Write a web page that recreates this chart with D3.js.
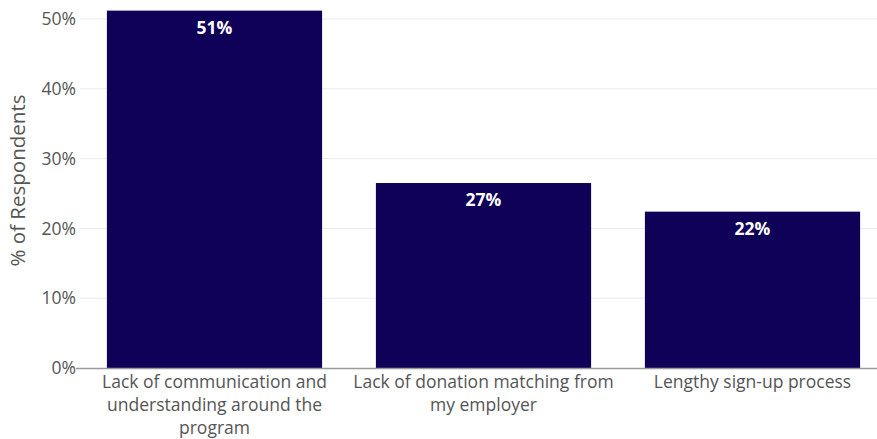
<!DOCTYPE html>
<html>
<head>
<meta charset="utf-8">
<script src="https://cdn.jsdelivr.net/npm/d3@7"></script>
<style>
  html, body { margin: 0; padding: 0; background: #fff; }
  svg { display: block; font-family: "Open Sans", sans-serif; }
</style>
</head>
<body>
<svg id="chart" width="877" height="439"></svg>
<script>
// Barriers reported by respondents (share of respondents, %)
const categories = [
  ["Lack of communication and", "understanding around the", "program"],
  ["Lack of donation matching from", "my employer"],
  ["Lengthy sign-up process"]
];
const values = [51.2, 26.5, 22.4];
const yTicks = [0, 10, 20, 30, 40, 50];
const yTitle = "% of Respondents";

const svg = d3.select("#chart");
const margin = { top: 19, left: 80, right: -10, bottom: 71 };
const width = 877, height = 439;

const x = d3.scaleBand()
  .domain(d3.range(values.length))
  .range([margin.left, width - margin.right])
  .paddingInner(0.2)
  .paddingOuter(0.1);

const y = d3.scaleLinear()
  .domain([0, 50])
  .range([height - margin.bottom, margin.top]);

// horizontal gridlines
svg.append("g")
  .selectAll("line")
  .data(yTicks.filter(d => d > 0))
  .join("line")
  .attr("x1", margin.left)
  .attr("x2", width)
  .attr("y1", d => y(d))
  .attr("y2", d => y(d))
  .attr("stroke", "#ebebeb")
  .attr("stroke-width", 1);

// y axis labels
const yAxis = d3.axisLeft(y)
  .tickValues(yTicks)
  .tickFormat(d => d + "%")
  .tickSize(0)
  .tickPadding(4);
const gy = svg.append("g")
  .attr("transform", `translate(${margin.left},0)`)
  .call(yAxis);
gy.select(".domain").remove();
gy.selectAll("text")
  .attr("fill", "#555")
  .style("font-size", "17.5px")
  .style("font-family", "'Open Sans', sans-serif");

// bars
svg.append("g")
  .selectAll("rect")
  .data(values)
  .join("rect")
  .attr("x", (d, i) => x(i))
  .attr("width", x.bandwidth())
  .attr("y", d => y(d))
  .attr("height", d => y(0) - y(d))
  .attr("fill", "#0f0058");

// value labels inside bars
svg.append("g")
  .selectAll("text")
  .data(values)
  .join("text")
  .attr("x", (d, i) => x(i) + x.bandwidth() / 2)
  .attr("y", d => y(d) + 17)
  .attr("dy", "0.35em")
  .attr("text-anchor", "middle")
  .attr("fill", "#fff")
  .style("font-size", "17.5px")
  .style("font-weight", "700")
  .text(d => Math.round(d) + "%");

// baseline axis line with a small tick at 0
svg.append("line")
  .attr("x1", margin.left - 4)
  .attr("x2", width)
  .attr("y1", y(0) + 0.5)
  .attr("y2", y(0) + 0.5)
  .attr("stroke", "#999")
  .attr("stroke-width", 1.5);

// category labels (multi-line)
const xl = svg.append("g")
  .selectAll("text")
  .data(categories)
  .join("text")
  .attr("text-anchor", "middle")
  .attr("fill", "#555")
  .style("font-size", "17.5px")
  .attr("transform", (d, i) => `translate(${x(i) + x.bandwidth() / 2},${y(0) + 20})`);
xl.selectAll("tspan")
  .data(d => d)
  .join("tspan")
  .attr("x", 0)
  .attr("y", (d, j) => j * 23)
  .text(d => d);

// y axis title
svg.append("text")
  .attr("transform", "translate(25,180.5) rotate(-90)")
  .attr("text-anchor", "middle")
  .attr("fill", "#555")
  .style("font-size", "20.5px")
  .text(yTitle);
</script>
</body>
</html>
